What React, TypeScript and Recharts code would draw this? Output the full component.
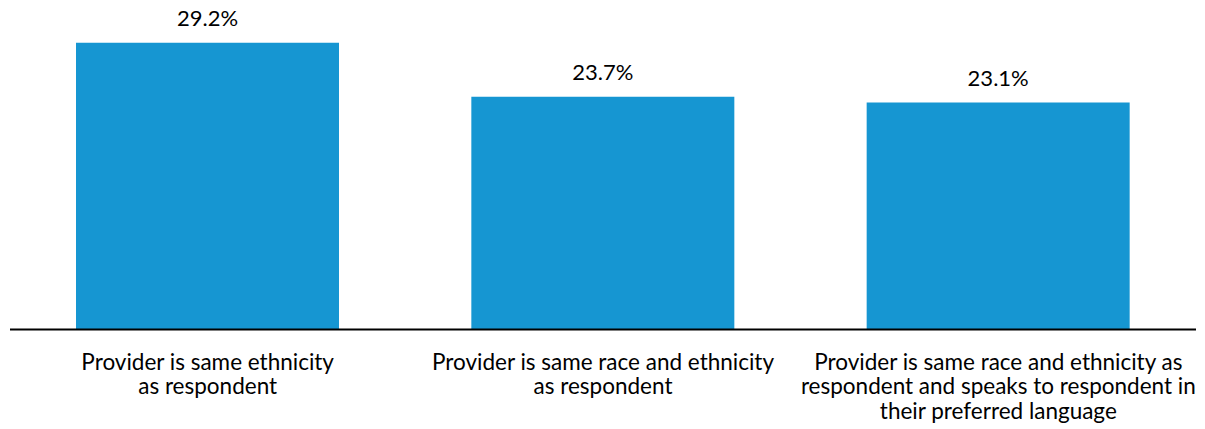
import React from "react";
import { BarChart, Bar, XAxis, YAxis, LabelList } from "recharts";

const categories = [
  "Provider is same ethnicity\nas respondent",
  "Provider is same race and ethnicity\nas respondent",
  "Provider is same race and ethnicity as\nrespondent and speaks to respondent in\ntheir preferred language",
];
const values = [29.2, 23.7, 23.1];

const data = categories.map((c, i) => ({ category: c, value: values[i] }));

const FONT = "Lato, 'Noto Sans', sans-serif";

const Tick = (props: any) => {
  const { x, y, payload } = props;
  const lines = String(payload.value).split("\n");
  return (
    <text
      x={x}
      y={y}
      textAnchor="middle"
      fill="#000"
      fontSize={22.5}
      fontFamily={FONT}
    >
      {lines.map((l, i) => (
        <tspan key={i} x={x} dy={i === 0 ? 32 : 24.5}>
          {l}
        </tspan>
      ))}
    </text>
  );
};

export default function App() {
  return (
    <div style={{ marginTop: -8 }}>
      <BarChart
        width={1189}
        height={429}
        data={data}
        margin={{ top: 34.8, right: 1, bottom: 0, left: 2 }}
      >
        <XAxis
          dataKey="category"
          tick={<Tick />}
          tickLine={false}
          axisLine={{ stroke: "#000", strokeWidth: 2 }}
          height={99.5}
          interval={0}
        />
        <YAxis hide domain={[0, 30]} />
        <Bar dataKey="value" fill="#1696d2" barSize={263} isAnimationActive={false}>
          <LabelList
            dataKey="value"
            position="top"
            offset={17}
            formatter={(v: any) => `${Number(v).toFixed(1)}%`}
            style={{ fontSize: 22, fontFamily: FONT, fill: "#000" }}
          />
        </Bar>
      </BarChart>
    </div>
  );
}
